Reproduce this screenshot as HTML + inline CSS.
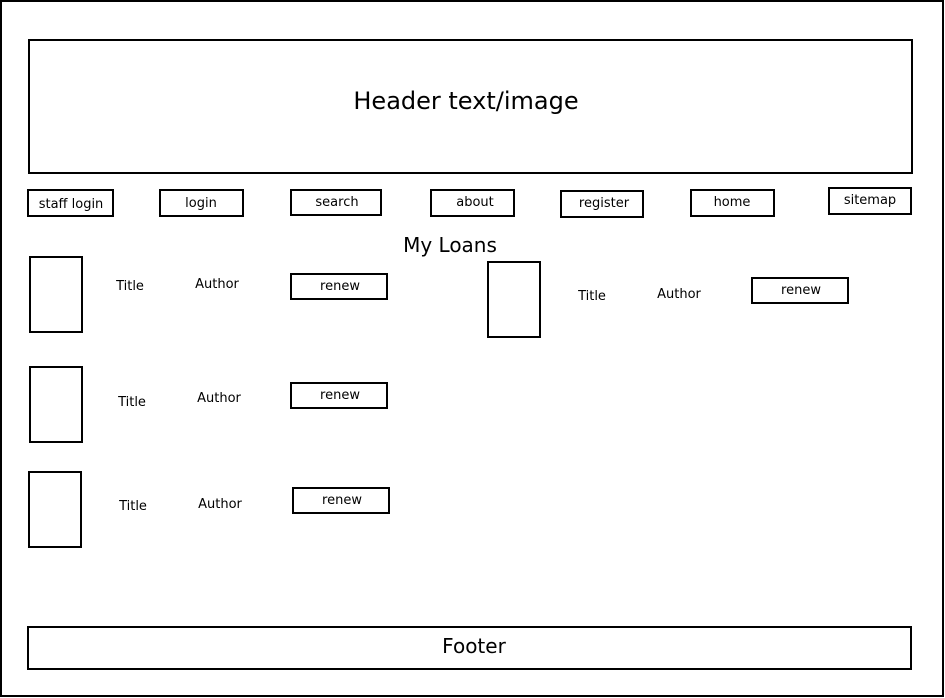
<!DOCTYPE html>
<html><head><style>
html,body{margin:0;padding:0;background:#fff;}
svg{display:block;font-family:"DejaVu Sans","Liberation Sans",sans-serif;}
rect{fill:#fff;stroke:#000;stroke-width:2;}
</style></head><body>
<svg width="945" height="698" viewBox="0 0 945 698">
<rect x="1" y="1" width="942" height="695"/>
<rect x="29" y="40" width="883" height="133"/>
<text x="466" y="109" font-size="24" text-anchor="middle">Header text/image</text>
<g font-size="13" text-anchor="middle">
<rect x="28" y="190" width="85" height="26"/><text x="71" y="208">staff login</text>
<rect x="160" y="190" width="83" height="26"/><text x="201" y="207">login</text>
<rect x="291" y="190" width="90" height="25"/><text x="337" y="206">search</text>
<rect x="431" y="190" width="83" height="26"/><text x="475" y="206">about</text>
<rect x="561" y="191" width="82" height="26"/><text x="604" y="207">register</text>
<rect x="691" y="190" width="83" height="26"/><text x="732" y="206">home</text>
<rect x="829" y="188" width="82" height="26"/><text x="870" y="204">sitemap</text>
</g>
<text x="450" y="252" font-size="20" text-anchor="middle">My Loans</text>
<g font-size="13" text-anchor="middle">
<rect x="30" y="257" width="52" height="75"/>
<text x="130" y="290">Title</text><text x="217" y="288">Author</text>
<rect x="291" y="274" width="96" height="25"/><text x="340" y="290">renew</text>
<rect x="488" y="262" width="52" height="75"/>
<text x="592" y="300">Title</text><text x="679" y="298">Author</text>
<rect x="752" y="278" width="96" height="25"/><text x="801" y="294">renew</text>
<rect x="30" y="367" width="52" height="75"/>
<text x="132" y="406">Title</text><text x="219" y="402">Author</text>
<rect x="291" y="383" width="96" height="25"/><text x="340" y="399">renew</text>
<rect x="29" y="472" width="52" height="75"/>
<text x="133" y="510">Title</text><text x="220" y="508">Author</text>
<rect x="293" y="488" width="96" height="25"/><text x="342" y="504">renew</text>
</g>
<rect x="28" y="627" width="883" height="42"/>
<text x="474" y="653" font-size="20" text-anchor="middle">Footer</text>
</svg>
</body></html>
